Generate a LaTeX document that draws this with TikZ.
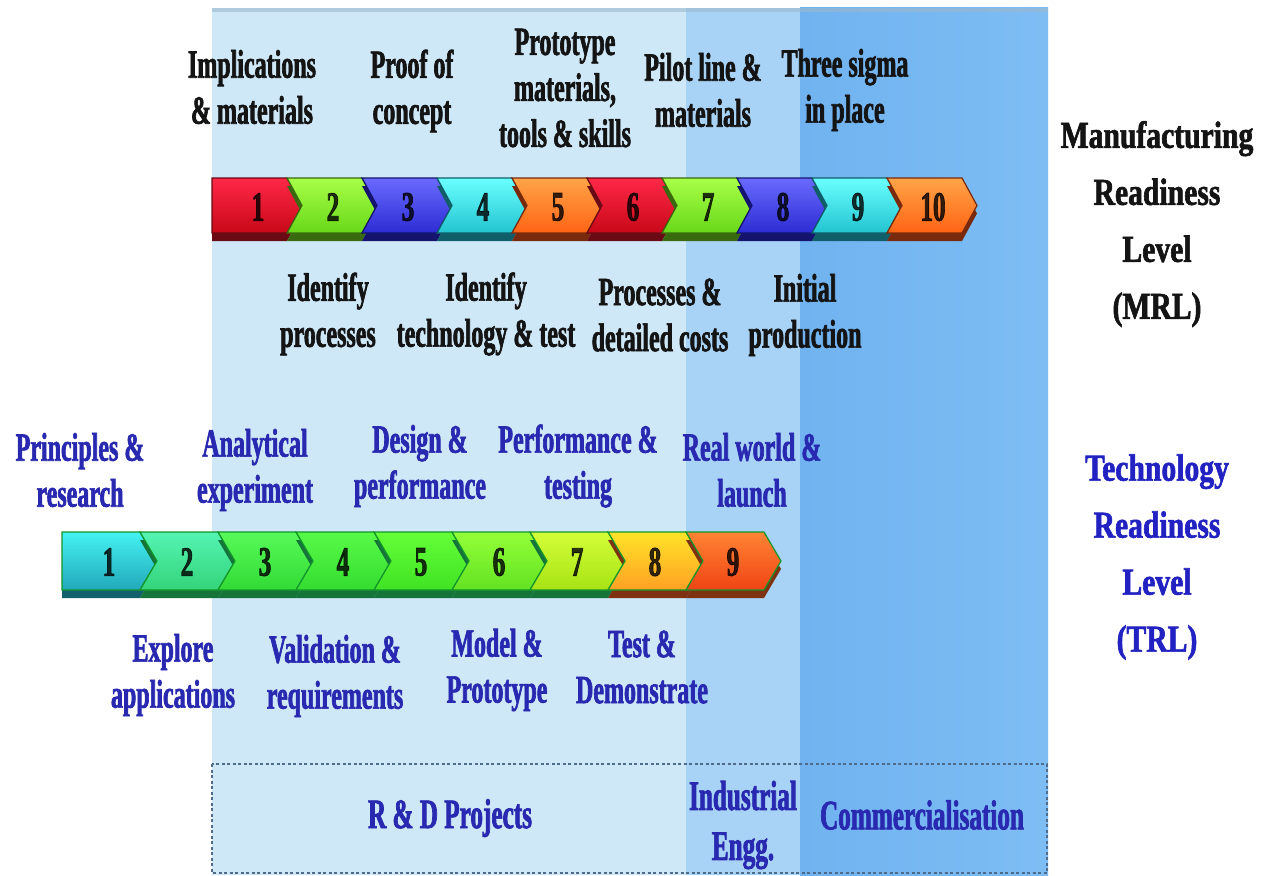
\documentclass[tikz,border=0pt]{standalone}
\usepackage{fontspec}
\newfontfamily\lblfont{Liberation Serif}[FakeStretch=0.6,FakeBold=1.6]
\newfontfamily\ttlfont{Liberation Serif}[FakeStretch=0.78,FakeBold=1.6]
\usetikzlibrary{calc}

% panel colours
\definecolor{panelA}{HTML}{CFE8F8}
\definecolor{panelB}{HTML}{A8D3F6}
\definecolor{panelCl}{HTML}{70B3F0}
\definecolor{panelCr}{HTML}{7EBDF4}
\definecolor{panelTop}{HTML}{9CB8CC}
\definecolor{boxline}{HTML}{4E6C8A}
\definecolor{trlblue}{HTML}{2828B0}
\definecolor{ttlblue}{HTML}{2222C2}
% MRL chevrons: top / bottom / extrusion
\definecolor{rT}{HTML}{FF2848}\definecolor{rB}{HTML}{C80818}\definecolor{rS}{HTML}{6A0A14}
\definecolor{gT}{HTML}{A8FF48}\definecolor{gB}{HTML}{68D818}\definecolor{gS}{HTML}{3A6A10}
\definecolor{bT}{HTML}{6A6AFF}\definecolor{bB}{HTML}{2C2CD4}\definecolor{bS}{HTML}{14146E}
\definecolor{cT}{HTML}{6AFFFF}\definecolor{cB}{HTML}{22C4D0}\definecolor{cS}{HTML}{105E6A}
\definecolor{oT}{HTML}{FFA448}\definecolor{oB}{HTML}{FF6414}\definecolor{oS}{HTML}{7A2A0C}
% TRL chevrons
\definecolor{t1T}{HTML}{44F2F2}\definecolor{t1B}{HTML}{22A8BA}
\definecolor{t2T}{HTML}{54F4B4}\definecolor{t2B}{HTML}{34D47A}
\definecolor{t3T}{HTML}{58FA58}\definecolor{t3B}{HTML}{32DA36}
\definecolor{t4T}{HTML}{58FA48}\definecolor{t4B}{HTML}{34DC30}
\definecolor{t5T}{HTML}{64FF38}\definecolor{t5B}{HTML}{40E224}
\definecolor{t6T}{HTML}{94FF38}\definecolor{t6B}{HTML}{62E222}
\definecolor{t7T}{HTML}{D4FF38}\definecolor{t7B}{HTML}{A6E214}
\definecolor{t8T}{HTML}{FFE428}\definecolor{t8B}{HTML}{FFA024}
\definecolor{t9T}{HTML}{FF8434}\definecolor{t9B}{HTML}{F04414}
\definecolor{tgS}{HTML}{14743A}\definecolor{tcS}{HTML}{12606E}\definecolor{toS}{HTML}{7E3212}
\definecolor{tEdge}{HTML}{12962A}

% one arrow segment: options, left x, top y, height, body width, tip depth, notch depth
\newcommand\chev[7]{%
  \path[#1] (#2,#3) -- ++(#5,0) -- ++(#6,#4/2) -- ++(-#6,#4/2) -- ++(-#5,0) -- ++(#7,-#4/2) -- cycle;}

\begin{document}
\begin{tikzpicture}[x=1pt,y=-1pt,
  lbl/.style={align=center, inner sep=0pt,
    font=\lblfont\bfseries\fontsize{40}{46}\selectfont},
  mrllbl/.style={lbl, text=black!92},
  trllbl/.style={lbl, text=trlblue},
  num/.style={inner sep=0pt, text=black, text opacity=0.8,
    font=\lblfont\bfseries\fontsize{42}{46}\selectfont},
  title/.style={align=center, inner sep=0pt,
    font=\ttlfont\bfseries\fontsize{38}{57}\selectfont},
  stage/.style={align=center, inner sep=0pt, text=trlblue,
    font=\lblfont\bfseries\fontsize{42}{50}\selectfont}]

\useasboundingbox (0,0) rectangle (1273,875);
\fill[white] (0,0) rectangle (1273,875);

% phase panels
\fill[panelA] (212,8) rectangle (686,875);
\fill[panelB] (686,8) rectangle (800,875);
\shade[left color=panelCl, right color=panelCr] (800,8) rectangle (1048,875);
\fill[panelTop, opacity=0.6] (212,8) rectangle (1048,12);

% phase box
\draw[boxline, line width=1.8pt, dash pattern=on 3pt off 2.5pt]
  (212,764) rectangle (1047,873);

% MRL arrow bar
\foreach \i/\ct/\cb/\cs in {1/rT/rB/rS,2/gT/gB/gS,3/bT/bB/bS,4/cT/cB/cS,5/oT/oB/oS,
                            6/rT/rB/rS,7/gT/gB/gS,8/bT/bB/bS,9/cT/cB/cS,10/oT/oB/oS}{
  \pgfmathsetmacro{\L}{212+(\i-1)*75}
  \pgfmathsetmacro{\N}{\i==1 ? 0 : 15}
  \chev{fill=\cs}{\L}{186}{55}{75}{15}{\N}
  \chev{top color=\ct, bottom color=\cb, draw=\cs, line width=1.2pt}{\L}{178}{55}{75}{15}{\N}
  \node[num] (m\i) at (\L+46,207) {\i};
}

% TRL arrow bar
\foreach \i/\ct/\cb/\cs in {1/t1T/t1B/tcS,2/t2T/t2B/tgS,3/t3T/t3B/tgS,4/t4T/t4B/tgS,
                            5/t5T/t5B/tgS,6/t6T/t6B/tgS,7/t7T/t7B/tgS,8/t8T/t8B/toS,9/t9T/t9B/toS}{
  \pgfmathsetmacro{\L}{62+(\i-1)*78}
  \pgfmathsetmacro{\N}{\i==1 ? 0 : 17}
  \chev{fill=\cs}{\L}{540}{58}{78}{17}{\N}
  \chev{top color=\ct, bottom color=\cb, draw=tEdge, line width=1.2pt}{\L}{532}{58}{78}{17}{\N}
  \node[num] (t\i) at (\L+47,562) {\i};
}

% MRL milestones
\node[mrllbl] (impl)  at (252,87)  {Implications\\ \& materials};
\node[mrllbl] (proof) at (412,91)  {Proof of\\ concept};
\node[mrllbl] (proto) at (565,88)  {Prototype\\ materials,\\ tools \& skills};
\node[mrllbl] (pilot) at (703,90)  {Pilot line \&\\ materials};
\node[mrllbl] (sigma) at (845,90)  {Three sigma\\ in place};
\node[mrllbl] (idp)   at (328,314) {Identify\\ processes};
\node[mrllbl] (idt)   at (486,314) {Identify\\ technology \& test};
\node[mrllbl] (proc)  at (660,315) {Processes \&\\ detailed costs};
\node[mrllbl] (init)  at (805,315) {Initial\\ production};

% TRL milestones
\node[trllbl] (prin)   at (80,470)  {Principles \&\\ research};
\node[trllbl] (anal)   at (255,470) {Analytical\\ experiment};
\node[trllbl] (design) at (420,466) {Design \&\\ performance};
\node[trllbl] (perf)   at (578,466) {Performance \&\\ testing};
\node[trllbl] (real)   at (752,470) {Real world \&\\ launch};
\node[trllbl] (expl)   at (173,675) {Explore\\ applications};
\node[trllbl] (valid)  at (335,676) {Validation \&\\ requirements};
\node[trllbl] (model)  at (497,670) {Model \&\\ Prototype};
\node[trllbl] (test)   at (642,667) {Test \&\\ Demonstrate};

% scale titles
\node[title, text=black!92] (mrl) at (1157,224) {Manufacturing\\ Readiness\\ Level\\ (MRL)};
\node[title, text=ttlblue]  (trl) at (1157,557) {Technology\\ Readiness\\ Level\\ (TRL)};

% phases
\node[stage] (rd)   at (450,818) {R \& D Projects};
\node[stage] (ind)  at (743,825) {Industrial\\ Engg.};
\node[stage] (comm) at (922,815) {Commercialisation};
\end{tikzpicture}
\end{document}
